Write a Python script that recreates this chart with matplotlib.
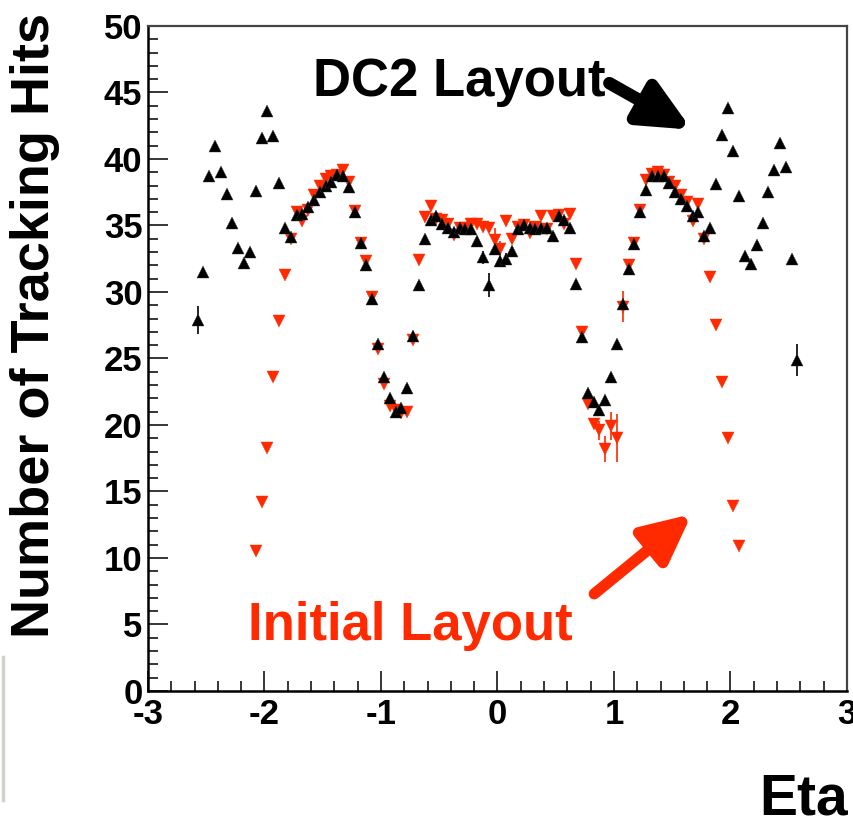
import numpy as np
import matplotlib
matplotlib.use("Agg")
import matplotlib.pyplot as plt
from matplotlib.lines import Line2D
from matplotlib.ticker import MultipleLocator

plt.rcParams['font.family'] = ['Liberation Sans', 'DejaVu Sans']
plt.rcParams['font.weight'] = 'bold'
plt.rcParams['axes.unicode_minus'] = False

# bin centres, 0.05 wide bins in eta
eta_dc2 = np.linspace(-2.575, 2.575, 104)
eta_init = np.linspace(-2.075, 2.075, 84)

# DC2 layout (black, up triangles)
hits_dc2 = [27.9, 31.5, 38.7, 41.0, 39.0, 37.4, 35.2, 33.3, 32.2, 33.0,
            37.6, 41.6, 43.6, 41.7, 38.2, 34.8, 34.1, 35.8, 35.9, 36.4,
            36.9, 37.5, 38.0, 38.3, 38.8, 38.7, 37.9, 36.0, 33.7, 32.0,
            29.5, 26.1, 23.6, 22.0, 21.0, 21.3, 22.8, 26.7, 30.5, 34.0,
            35.4, 35.7, 35.1, 34.8, 34.5, 34.8, 34.7, 34.7, 33.8, 32.6,
            30.5, 33.2, 32.3, 32.5, 33.1, 34.7, 35.0, 34.8, 34.7, 34.8,
            34.8, 34.2, 35.7, 35.4, 34.8, 30.6, 26.6, 22.4, 21.7, 21.1,
            21.9, 23.6, 26.1, 29.1, 31.7, 33.6, 36.0, 37.7, 38.7, 38.7,
            38.7, 38.2, 37.5, 37.0, 36.5, 35.7, 36.0, 34.2, 34.8, 38.1,
            41.8, 43.8, 40.6, 37.2, 32.7, 32.1, 33.5, 35.2, 37.5, 39.2,
            41.2, 39.4, 32.5, 24.9]

# Initial layout (red, down triangles)
hits_init = [10.5, 14.2, 18.3, 23.6, 27.8, 31.3, 34.0, 36.0, 35.3, 36.2,
             37.3, 38.0, 38.5, 38.7, 38.8, 39.2, 38.3, 36.1, 33.7, 32.3,
             29.6, 25.7, 23.1, 21.4, 21.1, 20.9, 21.0, 26.4, 32.4, 35.6,
             36.5, 35.5, 35.4, 35.1, 34.3, 34.8, 34.8, 35.1, 35.1, 34.9,
             34.8, 33.9, 33.2, 35.3, 34.0, 34.9, 35.0, 34.4, 34.9, 35.7,
             34.7, 35.7, 35.8, 35.1, 35.9, 32.1, 27.0, 21.6, 20.1, 19.6,
             18.2, 19.9, 19.0, 28.9, 32.0, 33.7, 36.2, 38.4, 38.9, 39.0,
             38.8, 38.3, 38.0, 37.3, 36.8, 35.3, 36.6, 34.0, 31.1, 27.5,
             23.2, 19.0, 13.9, 10.9]

# visible error bars (bin index -> half length)
err_dc2_bins = [0, 37, 49, 50, 52, 53, 103]
err_dc2 = [1.05, 0.4, 0.5, 0.9, 0.4, 0.4, 1.2]
err_init_bins = [27, 41, 42, 59, 60, 61, 62, 63]
err_init = [0.3, 0.9, 0.6, 0.7, 0.95, 1.05, 1.8, 1.15]

red = '#ff2a00'

fig = plt.figure(figsize=(8.54, 8.19), dpi=100)
ax = fig.add_axes([0.1733, 0.1563, 0.8185, 0.8120])

hits_dc2 = np.array(hits_dc2)
hits_init = np.array(hits_init)

ax.errorbar(eta_init[err_init_bins], hits_init[err_init_bins], yerr=err_init,
            fmt='none', ecolor=red, elinewidth=1.2, zorder=2)
ax.errorbar(eta_dc2[err_dc2_bins], hits_dc2[err_dc2_bins], yerr=err_dc2,
            fmt='none', ecolor='black', elinewidth=1.2, zorder=3)
ax.plot(eta_init, hits_init, linestyle='none', marker='v', ms=9,
        color=red, mec=red, mew=0.3, zorder=4)
ax.plot(eta_dc2, hits_dc2, linestyle='none', marker='^', ms=9,
        color='black', mec='#333333', mew=0.3, zorder=5)

ax.set_xlim(-3, 3)
ax.set_ylim(0, 50)
ax.xaxis.set_major_locator(MultipleLocator(1))
ax.xaxis.set_minor_locator(MultipleLocator(0.2))
ax.yaxis.set_major_locator(MultipleLocator(5))
ax.yaxis.set_minor_locator(MultipleLocator(1))
ax.tick_params(which='both', direction='in', top=False, right=False,
               labelsize=25, width=1.1, colors='black')
ax.tick_params(which='major', length=14.5)
ax.tick_params(which='minor', length=7.2)
ax.tick_params(axis='x', pad=5)
ax.tick_params(axis='y', pad=4)
for lab in ax.get_xticklabels() + ax.get_yticklabels():
    lab.set_fontweight('bold')

for side in ['left', 'bottom']:
    ax.spines[side].set_linewidth(1.8)
    ax.spines[side].set_color('black')
for side in ['top', 'right']:
    ax.spines[side].set_linewidth(1.6)
    ax.spines[side].set_color('#444444')

fig.text(0.041, 0.6032, 'Number of Tracking Hits', rotation=90,
         fontsize=39, fontweight='bold', ha='center', va='center')
fig.text(0.993, 0.006, 'Eta', fontsize=41, fontweight='bold',
         ha='right', va='baseline')

ax.text(-1.58, 44.7, 'DC2 Layout', fontsize=38, fontweight='bold',
        color='black', ha='left', va='baseline')
ax.text(-2.14, 3.83, 'Initial Layout', fontsize=38, fontweight='bold',
        color=red, ha='left', va='baseline')

ax.annotate('', xy=(1.667, 42.2), xytext=(0.96, 45.7),
            arrowprops=dict(arrowstyle='-|>,head_length=3.0,head_width=1.4',
                            lw=9, color='black', mutation_scale=10,
                            shrinkA=0, shrinkB=0))
ax.annotate('', xy=(1.667, 13.3), xytext=(0.83, 7.3),
            arrowprops=dict(arrowstyle='-|>,head_length=2.9,head_width=1.4',
                            lw=8, color=red, mutation_scale=10,
                            shrinkA=0, shrinkB=0))

# thin grey bar at the left edge of the picture
fig.add_artist(Line2D([0.004, 0.004], [1 - 657 / 819, 1 - 800 / 819],
                      color='#d4d0cc', lw=2.5, transform=fig.transFigure))

fig.savefig('out.png', dpi=100)
